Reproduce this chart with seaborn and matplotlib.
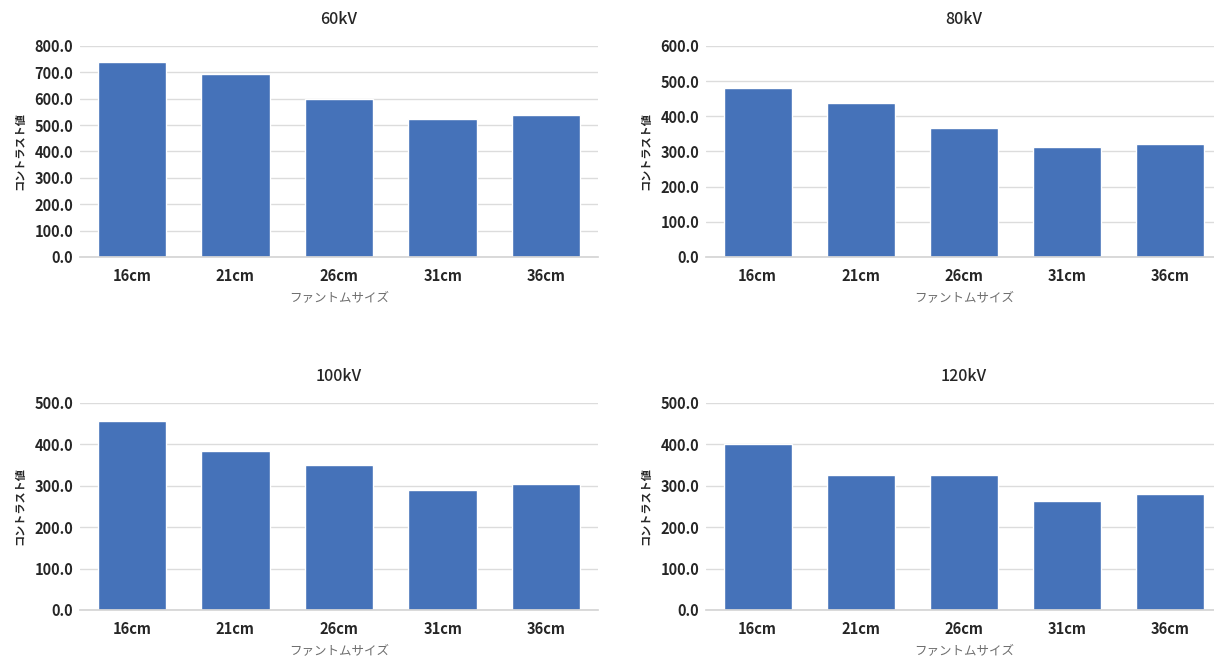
import matplotlib
matplotlib.use('Agg')
import matplotlib.pyplot as plt
from matplotlib.ticker import MultipleLocator, FormatStrFormatter
import seaborn as sns
import pandas as pd

# phantom sizes and contrast values per tube voltage
sizes = ['16cm', '21cm', '26cm', '31cm', '36cm']
kv_60 = [739, 692, 599, 523, 540]
kv_80 = [481, 437, 367, 314, 321]
kv_100 = [457, 383, 350, 289, 305]
kv_120 = [402, 325, 325, 264, 280]
titles = ['60kV', '80kV', '100kV', '120kV']
ymax = [800, 600, 500, 500]

sns.set_theme(style='white')
plt.rcParams['font.family'] = ['Noto Sans CJK JP', 'DejaVu Sans']

rows = []
for t, vals in zip(titles, [kv_60, kv_80, kv_100, kv_120]):
    for s, v in zip(sizes, vals):
        rows.append({'kv': t, 'size': s, 'value': v})
df = pd.DataFrame(rows)

W, H = 1214, 664
fig = plt.figure(figsize=(W / 100, H / 100), dpi=100)

# axes boxes in pixels: left, top, right, bottom
boxes = [(80, 46, 598, 257), (706, 46, 1222, 257),
         (80, 403, 598, 610), (706, 403, 1222, 610)]

for t, top, (l, tp, r, b) in zip(titles, ymax, boxes):
    ax = fig.add_axes([l / W, 1 - b / H, (r - l) / W, (b - tp) / H])
    sub = df[df['kv'] == t]
    sns.barplot(data=sub, x='size', y='value', ax=ax, color='#4572B9',
                saturation=1, width=0.66, errorbar=None)
    ax.set_ylim(0, top)
    ax.yaxis.set_major_locator(MultipleLocator(100))
    ax.yaxis.set_major_formatter(FormatStrFormatter('%.1f'))
    ax.grid(axis='y', color='#DCDCDC', linewidth=1)
    ax.set_axisbelow(True)
    for sp in ax.spines.values():
        sp.set_visible(False)
    ax.spines['bottom'].set_visible(True)
    ax.spines['bottom'].set_color('#D5D5D5')
    ax.tick_params(length=0, labelsize=10.5, pad=5)
    for lab in ax.get_xticklabels() + ax.get_yticklabels():
        lab.set_fontweight('bold')
        lab.set_color('#262626')
    ax.tick_params(axis='x', pad=8)
    ax.set_title(t, fontsize=11.5, fontweight='medium', color='#262626', pad=16)
    ax.set_xlabel('ファントムサイズ', fontsize=9, color='#6E6E6E', labelpad=5)
    ax.set_ylabel('コントラスト値', fontsize=8, fontweight='bold', color='#262626', labelpad=6)

fig.savefig('out.png', dpi=100)
